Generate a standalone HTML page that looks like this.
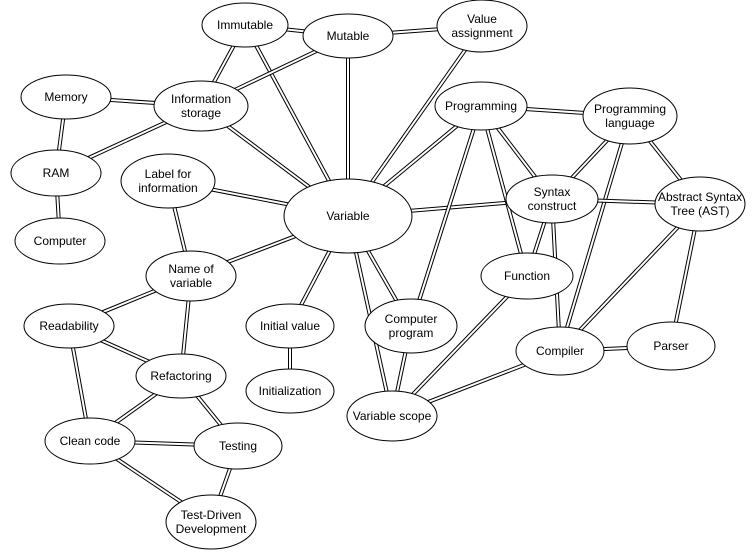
<!DOCTYPE html>
<html><head><meta charset="utf-8"><style>
html,body{margin:0;padding:0;background:#fff;}
svg{display:block;}
text{font-family:"Liberation Sans",sans-serif;font-size:12px;fill:#000;text-anchor:middle;}
</style></head><body>
<svg width="754" height="559" viewBox="0 0 754 559" xmlns="http://www.w3.org/2000/svg">
<g id="edges" stroke-linecap="butt"></g>
<g id="nodes"></g>
</svg>
<script>
const N={
imm:[245,25,43,22,["Immutable"]],
mut:[348,36,45,22,["Mutable"]],
va:[482,26,45,26,["Value","assignment"]],
mem:[66,97,45,22,["Memory"]],
is:[201,106,47,25,["Information","storage"]],
prog:[481,106,46,24,["Programming"]],
pl:[630,116,47,28,["Programming","language"]],
ram:[56,173,45,23,["RAM"]],
lab:[168,181,47,27,["Label for","information"]],
v:[348,216,64,37,["Variable"]],
sc:[552,199,46,24,["Syntax","construct"]],
ast:[700,204,45,27,["Abstract Syntax","Tree (AST)"]],
comp:[60,241,45,23,["Computer"]],
nv:[191,276,45,25,["Name of","variable"]],
fn:[527,276,46,23,["Function"]],
rd:[69,326,45,22,["Readability"]],
iv:[290,326,44,22,["Initial value"]],
cp:[411,326,46,27,["Computer","program"]],
cmp:[560,351,44,24,["Compiler"]],
par:[671,346,44,24,["Parser"]],
ref:[181,376,45,22,["Refactoring"]],
ini:[290,391,44,22,["Initialization"]],
vs:[392,416,45,25,["Variable scope"]],
cc:[90,441,45,23,["Clean code"]],
tst:[238,446,44,23,["Testing"]],
tdd:[211,522,45,27,["Test-Driven","Development"]]
};
const E=[["imm","mut"],["imm","is"],["imm","v"],["mut","va"],["mut","is"],["mut","v"],["va","v"],["mem","is"],["mem","ram"],["ram","is"],["ram","comp"],["is","v"],["lab","v"],["lab","nv"],["v","nv"],["v","sc"],["prog","v"],["v","cp"],["v","iv"],["v","vs"],["prog","pl"],["prog","sc"],["prog","fn"],["prog","cp"],["pl","sc"],["pl","ast"],["pl","cmp"],["sc","ast"],["sc","fn"],["sc","cmp"],["ast","cmp"],["ast","par"],["cmp","par"],["cmp","vs"],["fn","vs"],["cp","vs"],["iv","ini"],["nv","rd"],["nv","ref"],["rd","ref"],["rd","cc"],["ref","cc"],["ref","tst"],["cc","tst"],["cc","tdd"],["tst","tdd"]];
const ns="http://www.w3.org/2000/svg";
const eg=document.getElementById("edges"),ng=document.getElementById("nodes");
function mk(t,a,p){const e=document.createElementNS(ns,t);for(const k in a)e.setAttribute(k,a[k]);p.appendChild(e);return e;}
for(const [a,b] of E){const A=N[a],B=N[b];
mk("line",{x1:A[0],y1:A[1],x2:B[0],y2:B[1],stroke:"#000","stroke-width":4},eg);
mk("line",{x1:A[0],y1:A[1],x2:B[0],y2:B[1],stroke:"#fff","stroke-width":2},eg);}
for(const k in N){const [x,y,rx,ry,l]=N[k];
mk("ellipse",{cx:x,cy:y,rx:rx,ry:ry,fill:"#fff",stroke:"#000","stroke-width":1},ng);
const n=l.length;l.forEach((s,i)=>{const t=mk("text",{x:x,y:y+4+(i-(n-1)/2)*14},ng);t.textContent=s;});}
</script>
</body></html>
